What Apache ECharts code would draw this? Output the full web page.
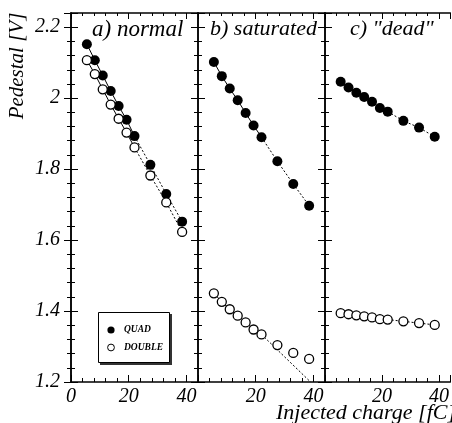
<!DOCTYPE html>
<html>
<head>
<meta charset="utf-8">
<script src="https://cdn.jsdelivr.net/npm/echarts@6/dist/echarts.min.js"></script>
<style>
html,body{margin:0;padding:0;background:#fff;}
#chart{width:452px;height:423px;}
</style>
</head>
<body>
<div id="chart"></div>
<script>
// ---- data ----
const charge = [5.5, 8.25, 11, 13.75, 16.5, 19.25, 22, 27.5, 33, 38.5];
const normalQuad      = [2.152, 2.107, 2.064, 2.020, 1.978, 1.939, 1.893, 1.812, 1.730, 1.652];
const normalDouble    = [2.107, 2.068, 2.025, 1.982, 1.942, 1.903, 1.861, 1.782, 1.706, 1.623];
const saturatedQuad   = [2.102, 2.062, 2.027, 1.994, 1.958, 1.923, 1.890, 1.822, 1.758, 1.697];
const saturatedDouble = [1.450, 1.426, 1.405, 1.387, 1.368, 1.348, 1.334, 1.304, 1.282, 1.265];
const deadQuad        = [2.046, 2.030, 2.015, 2.003, 1.990, 1.972, 1.962, 1.936, 1.917, 1.891];
const deadDouble      = [1.394, 1.391, 1.388, 1.385, 1.382, 1.377, 1.376, 1.371, 1.366, 1.361];
// extrapolated fit end for saturated DOUBLE
const saturatedDoubleFitEnd = [39, 1.2];
const panelTitles = ['a) normal', 'b) saturated', 'c) "dead"'];
const xTicks = [0, 20, 40];
const yTicks = [1.2, 1.4, 1.6, 1.8, 2, 2.2];
const legendNames = ['QUAD', 'DOUBLE'];

const panels = [
  {quad: normalQuad, dbl: normalDouble},
  {quad: saturatedQuad, dbl: saturatedDouble},
  {quad: deadQuad, dbl: deadDouble}
];

const SERIF = '"Liberation Serif", "DejaVu Serif", serif';
const pair = (xs, ys) => xs.map((x, i) => [x, ys[i]]);

const chart = echarts.init(document.getElementById('chart'), null, {renderer: 'canvas'});

const gridLeft = [71, 198, 325];
const gridW = 127;
const grids = gridLeft.map(l => ({left: l, top: 13, width: gridW, height: 369}));

const xAxes = [], yAxes = [], series = [];
const tickStyle = {color: '#000', width: 1};
grids.forEach((g, gi) => {
  // bottom x axis
  xAxes.push({
    gridIndex: gi, type: 'value', min: 0, max: 44, interval: 20, position: 'bottom',
    axisLine: {lineStyle: {color: '#000', width: 1.5}},
    axisTick: {inside: true, length: 7, lineStyle: tickStyle},
    minorTick: {show: true, splitNumber: 5, length: 4, lineStyle: tickStyle},
    splitLine: {show: false},
    axisLabel: {
      show: true, margin: 5, color: '#000', fontFamily: SERIF, fontStyle: 'italic', fontSize: 20,
      showMaxLabel: false,
      formatter: v => (xTicks.indexOf(v) >= 0 && !(gi > 0 && v === 0)) ? String(v) : ''
    }
  });
  // top x axis
  xAxes.push({
    gridIndex: gi, type: 'value', min: 0, max: 44, interval: 20, position: 'top',
    axisLine: {lineStyle: {color: '#000', width: 1.5}},
    axisTick: {inside: true, length: 6, lineStyle: tickStyle},
    minorTick: {show: true, splitNumber: 5, length: 3, lineStyle: tickStyle},
    splitLine: {show: false}, axisLabel: {show: false}
  });
  // left y axis
  yAxes.push({
    gridIndex: gi, type: 'value', min: 1.2, max: 2.24, interval: 0.2, position: 'left',
    axisLine: {show: true, lineStyle: {color: '#000', width: 1.5}},
    axisTick: {show: true, inside: true, length: 7, lineStyle: tickStyle},
    minorTick: {show: true, splitNumber: 5, length: 4, lineStyle: tickStyle},
    splitLine: {show: false},
    axisLabel: {
      show: gi === 0, margin: 11, color: '#000', fontFamily: SERIF, fontStyle: 'italic', fontSize: 20,
      showMaxLabel: false,
      formatter: v => {
        const r = Math.round(v * 10) / 10;
        return yTicks.indexOf(r) >= 0 ? String(r) : '';
      }
    }
  });
  // right y axis
  yAxes.push({
    gridIndex: gi, type: 'value', min: 1.2, max: 2.24, interval: 0.2, position: 'right',
    axisLine: {show: true, lineStyle: {color: '#000', width: 1.5}},
    axisTick: {show: true, inside: true, length: 7, lineStyle: tickStyle},
    minorTick: {show: true, splitNumber: 5, length: 4, lineStyle: tickStyle},
    splitLine: {show: false}, axisLabel: {show: false}
  });

  const p = panels[gi];
  const xi = gi * 2, yi = gi * 2;
  const quadPts = pair(charge, p.quad);
  const dblPts = pair(charge, p.dbl);
  const lineBase = {type: 'line', xAxisIndex: xi, yAxisIndex: yi, symbol: 'none', silent: true, z: 1};
  // QUAD line: solid through first seven points, dotted after
  series.push(Object.assign({}, lineBase, {data: quadPts.slice(0, 7), lineStyle: {color: '#000', width: 1, type: 'solid'}}));
  series.push(Object.assign({}, lineBase, {data: quadPts.slice(6), lineStyle: {color: '#000', width: 1, type: [2, 2]}}));
  // DOUBLE line
  series.push(Object.assign({}, lineBase, {data: dblPts.slice(0, 7), lineStyle: {color: '#000', width: 1, type: gi === 2 ? [3, 2] : 'solid'}}));
  if (gi === 1) {
    series.push(Object.assign({}, lineBase, {data: [dblPts[6], saturatedDoubleFitEnd], lineStyle: {color: '#000', width: 1, type: [2, 2]}}));
  } else {
    series.push(Object.assign({}, lineBase, {data: dblPts.slice(6), lineStyle: {color: '#000', width: 1, type: [2, 2]}}));
  }
  // markers
  series.push({
    name: 'QUAD', type: 'scatter', xAxisIndex: xi, yAxisIndex: yi, data: quadPts,
    symbol: 'circle', symbolSize: 10, z: 3,
    itemStyle: {color: '#000', borderColor: '#000', borderWidth: 0, opacity: 1}
  });
  series.push({
    name: 'DOUBLE', type: 'scatter', xAxisIndex: xi, yAxisIndex: yi, data: dblPts,
    symbol: 'circle', symbolSize: 9, z: 3,
    itemStyle: {color: '#fff', borderColor: '#000', borderWidth: 1.3, opacity: 1}
  });
});

const graphics = [];
// panel titles
const titleX = [92, 210, 350];
const titleSize = [23, 22, 22];
panelTitles.forEach((t, i) => {
  graphics.push({type: 'text', left: titleX[i], top: 18, z: 10,
    style: {text: t, font: 'italic ' + titleSize[i] + 'px ' + SERIF, fill: '#000'}});
});
// axis names
graphics.push({type: 'text', x: 17, y: 66, rotation: Math.PI / 2, z: 10,
  style: {text: 'Pedestal [V]', font: 'italic 21px ' + SERIF, fill: '#000', textAlign: 'center', textVerticalAlign: 'middle'}});
graphics.push({type: 'text', x: 276, y: 413, z: 10,
  style: {text: 'Injected charge [fC]', font: 'italic 22px ' + SERIF, fill: '#000', textAlign: 'left', textVerticalAlign: 'middle'}});
// legend box
graphics.push({type: 'rect', shape: {x: 100, y: 314, width: 72, height: 51}, style: {fill: '#333'}, z: 10});
graphics.push({type: 'rect', shape: {x: 98.5, y: 312.5, width: 71, height: 50}, style: {fill: '#fff', stroke: '#000', lineWidth: 1}, z: 11});
graphics.push({type: 'circle', shape: {cx: 111, cy: 330, r: 3.6}, style: {fill: '#000'}, z: 12});
graphics.push({type: 'circle', shape: {cx: 111, cy: 347.5, r: 3.4}, style: {fill: '#fff', stroke: '#000', lineWidth: 1}, z: 12});
graphics.push({type: 'text', x: 124, y: 330, z: 12,
  style: {text: legendNames[0], font: 'italic bold 9.5px ' + SERIF, fill: '#000', textVerticalAlign: 'middle'}});
graphics.push({type: 'text', x: 124, y: 347.5, z: 12,
  style: {text: legendNames[1], font: 'italic bold 9.5px ' + SERIF, fill: '#000', textVerticalAlign: 'middle'}});

chart.setOption({
  animation: false,
  backgroundColor: '#fff',
  grid: grids,
  xAxis: xAxes,
  yAxis: yAxes,
  series: series,
  graphic: graphics
});
</script>
</body>
</html>
